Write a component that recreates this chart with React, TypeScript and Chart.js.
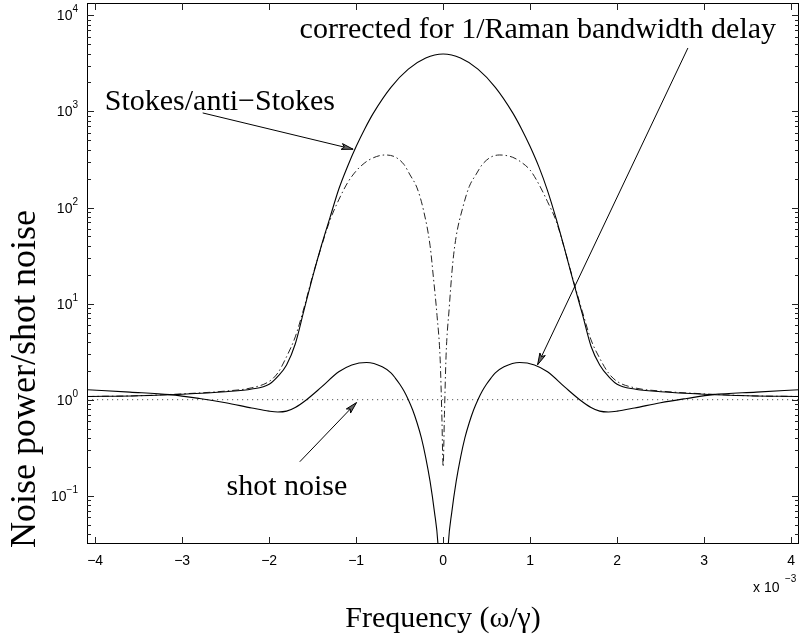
import React, { useEffect, useRef } from "react";
import { Chart, registerables } from "chart.js";

Chart.register(...registerables);

// ---- data (frequency in units of 1e-3) ----
const stokesX = [-4.09, -3.5, -3.0, -2.5, -2.2, -2.0, -1.9, -1.8, -1.7, -1.6, -1.5, -1.4, -1.3, -1.2, -1.1, -1.0, -0.9, -0.8, -0.6, -0.4, -0.2, 0, 0.2, 0.4, 0.6, 0.8, 0.9, 1.0, 1.1, 1.2, 1.3, 1.4, 1.5, 1.6, 1.7, 1.8, 1.9, 2.0, 2.2, 2.5, 3.0, 3.5, 4.09];
const stokesY = [1.08, 1.10, 1.14, 1.21, 1.29, 1.45, 1.75, 2.3, 3.8, 8.5, 19, 40, 79, 155, 266, 431, 661, 966, 1780, 2750, 3590, 3950, 3590, 2750, 1780, 966, 661, 431, 266, 150, 76, 36, 16.5, 7.8, 3.6, 2.3, 1.75, 1.45, 1.29, 1.21, 1.14, 1.10, 1.08];

const uncorrX = [-4.09, -3.5, -3.0, -2.5, -2.2, -2.0, -1.9, -1.8, -1.7, -1.6, -1.5, -1.4, -1.3, -1.2, -1.1, -1.0, -0.9, -0.8, -0.67, -0.55, -0.45, -0.38, -0.3, -0.226, -0.15, -0.11, -0.07, -0.034, -0.015, 0, 0.015, 0.034, 0.07, 0.11, 0.15, 0.226, 0.3, 0.38, 0.45, 0.55, 0.65, 0.8, 0.9, 1.0, 1.1, 1.2, 1.3, 1.4, 1.5, 1.6, 1.7, 1.8, 1.9, 2.0, 2.2, 2.5, 3.0, 3.5, 4.09];
const uncorrY = [1.08, 1.10, 1.15, 1.23, 1.33, 1.55, 1.9, 2.8, 4.5, 9, 19.5, 39, 74, 120, 180, 240, 292, 330, 352, 335, 280, 218, 160, 94, 40, 18, 7.5, 2.6, 0.7, 0.2, 0.7, 2.9, 9, 26, 50, 100, 165, 222, 280, 335, 352, 333, 295, 245, 175, 115, 72, 36, 17, 8.3, 4.2, 2.7, 1.9, 1.55, 1.33, 1.23, 1.15, 1.10, 1.08];

const correctedX = [-4.09, -3.6, -3.14, -2.8, -2.5, -2.2, -2.0, -1.9, -1.8, -1.7, -1.57, -1.4, -1.2, -1.05, -0.88, -0.7, -0.6, -0.55, -0.5, -0.45, -0.4, -0.35, -0.3, -0.25, -0.2, -0.15, -0.1, -0.06, -0.02, 0, 0.02, 0.06, 0.1, 0.15, 0.2, 0.25, 0.3, 0.35, 0.4, 0.45, 0.5, 0.55, 0.6, 0.7, 0.88, 1.05, 1.2, 1.4, 1.57, 1.7, 1.8, 1.9, 2.0, 2.2, 2.5, 2.8, 3.1, 3.6, 4.09];
const correctedY = [1.27, 1.2, 1.13, 1.03, 0.93, 0.82, 0.76, 0.745, 0.76, 0.83, 1.0, 1.35, 1.95, 2.3, 2.44, 2.2, 1.9, 1.68, 1.455, 1.23, 1.0, 0.78, 0.575, 0.40, 0.25, 0.141, 0.068, 0.032, 0.005, 0.001, 0.005, 0.032, 0.068, 0.141, 0.25, 0.40, 0.575, 0.78, 1.0, 1.23, 1.455, 1.68, 1.9, 2.2, 2.44, 2.3, 1.95, 1.35, 1.0, 0.83, 0.76, 0.745, 0.76, 0.82, 0.93, 1.03, 1.13, 1.2, 1.27];

const shotNoiseX = [-4.094, 4.091];
const shotNoiseY = [1, 1];

const xTickValues = [-4, -3, -2, -1, 0, 1, 2, 3, 4];
const xTickLabels = ["\u22124", "\u22123", "\u22122", "\u22121", "0", "1", "2", "3", "4"];
const yTickExponents = [-1, 0, 1, 2, 3, 4];
const yTickExpLabels = ["\u22121", "0", "1", "2", "3", "4"];

const xMin = -4.094;
const xMax = 4.091;
const yMin = 0.0315;
const yMax = 13430;

// annotations: text anchors (data space) and arrows
const annText = ["corrected for 1/Raman bandwidth delay", "Stokes/anti\u2212Stokes", "shot noise"];
const annTextX = [-1.65, -3.89, -2.49];
const annTextY = [5800, 1035, 0.102];
const arrowFrom = [[2.814, 4570], [-2.764, 964], [-1.648, 0.226]];
const arrowTo = [[1.086, 2.31], [-1.035, 404], [-0.996, 0.933]];

const toPts = (xs: number[], ys: number[]) => xs.map((x, i) => ({ x, y: ys[i] }));

const SERIF = "'Liberation Serif', 'Times New Roman', serif";
const SANS = "'Liberation Sans', Arial, sans-serif";

const decor = {
  id: "decor",
  afterDraw(chart: any) {
    const { ctx, chartArea: a, scales } = chart;
    const xs = scales.x;
    const ys = scales.y;
    ctx.save();
    ctx.strokeStyle = "#000";
    ctx.lineWidth = 1;
    ctx.strokeRect(Math.round(a.left) + 0.5, Math.round(a.top) + 0.5, Math.round(a.right - a.left) - 1, Math.round(a.bottom - a.top) - 1);

    ctx.strokeStyle = "#222";
    ctx.beginPath();
    xTickValues.forEach((v) => {
      const p = Math.round(xs.getPixelForValue(v)) + 0.5;
      ctx.moveTo(p, a.bottom);
      ctx.lineTo(p, a.bottom - 7);
      ctx.moveTo(p, a.top);
      ctx.lineTo(p, a.top + 7);
    });
    yTickExponents.forEach((e) => {
      const p = Math.round(ys.getPixelForValue(Math.pow(10, e))) + 0.5;
      ctx.moveTo(a.left, p);
      ctx.lineTo(a.left + 7, p);
      ctx.moveTo(a.right, p);
      ctx.lineTo(a.right - 7, p);
    });
    for (let e = -2; e <= 4; e++) {
      for (let k = 2; k <= 9; k++) {
        const v = k * Math.pow(10, e);
        if (v <= yMin || v >= yMax) continue;
        const p = Math.round(ys.getPixelForValue(v)) + 0.5;
        ctx.moveTo(a.left, p);
        ctx.lineTo(a.left + 4, p);
        ctx.moveTo(a.right, p);
        ctx.lineTo(a.right - 4, p);
      }
    }
    ctx.stroke();

    ctx.fillStyle = "#000";
    ctx.font = `14px ${SANS}`;
    ctx.textAlign = "center";
    ctx.textBaseline = "alphabetic";
    xTickValues.forEach((v, i) => {
      ctx.fillText(xTickLabels[i], xs.getPixelForValue(v), a.bottom + 21);
    });
    ctx.textAlign = "left";
    ctx.fillText("x 10", 753, a.bottom + 48);
    ctx.font = `10px ${SANS}`;
    ctx.fillText("\u22123", 785, a.bottom + 38);

    yTickExponents.forEach((e, i) => {
      const p = ys.getPixelForValue(Math.pow(10, e));
      ctx.font = `10px ${SANS}`;
      const ew = ctx.measureText(yTickExpLabels[i]).width;
      ctx.textAlign = "left";
      ctx.fillText(yTickExpLabels[i], 78 - ew, p - 3);
      ctx.font = `14px ${SANS}`;
      const bw = ctx.measureText("10").width;
      ctx.fillText("10", 78 - ew - bw, p + 5);
    });

    ctx.font = `30px ${SERIF}`;
    ctx.textAlign = "center";
    ctx.fillText("Frequency (\u03c9/\u03b3)", (a.left + a.right) / 2, 627);
    ctx.save();
    ctx.translate(35, 379);
    ctx.rotate(-Math.PI / 2);
    ctx.font = `36px ${SERIF}`;
    ctx.fillText("Noise power/shot noise", 0, 0);
    ctx.restore();

    ctx.font = `30px ${SERIF}`;
    ctx.textAlign = "left";
    annText.forEach((t, i) => {
      ctx.fillText(t, xs.getPixelForValue(annTextX[i]), ys.getPixelForValue(annTextY[i]));
    });

    ctx.strokeStyle = "#000";
    ctx.fillStyle = "#666";
    ctx.lineWidth = 1;
    arrowFrom.forEach((f, i) => {
      const t = arrowTo[i];
      const x0 = xs.getPixelForValue(f[0]);
      const y0 = ys.getPixelForValue(f[1]);
      const x1 = xs.getPixelForValue(t[0]);
      const y1 = ys.getPixelForValue(t[1]);
      const ang = Math.atan2(y1 - y0, x1 - x0);
      const L = 12;
      const s = 0.25;
      ctx.beginPath();
      ctx.moveTo(x0, y0);
      ctx.lineTo(x1, y1);
      ctx.stroke();
      ctx.beginPath();
      ctx.moveTo(x1, y1);
      ctx.lineTo(x1 - L * Math.cos(ang - s), y1 - L * Math.sin(ang - s));
      ctx.lineTo(x1 - L * 0.75 * Math.cos(ang), y1 - L * 0.75 * Math.sin(ang));
      ctx.lineTo(x1 - L * Math.cos(ang + s), y1 - L * Math.sin(ang + s));
      ctx.closePath();
      ctx.fill();
      ctx.stroke();
    });
    ctx.restore();
  },
};

export default function App() {
  const ref = useRef<HTMLCanvasElement | null>(null);
  useEffect(() => {
    if (!ref.current) return;
    const chart = new Chart(ref.current, {
      type: "scatter",
      data: {
        datasets: [
          {
            label: "corrected",
            data: toPts(correctedX, correctedY),
            showLine: true,
            borderColor: "#000",
            borderWidth: 1.1,
            pointRadius: 0,
            cubicInterpolationMode: "monotone",
          },
          {
            label: "Stokes",
            data: toPts(stokesX, stokesY),
            showLine: true,
            borderColor: "#000",
            borderWidth: 1.1,
            pointRadius: 0,
            cubicInterpolationMode: "monotone",
          },
          {
            label: "uncorrected",
            data: toPts(uncorrX, uncorrY),
            showLine: true,
            borderColor: "#222",
            borderWidth: 1,
            borderDash: [7, 3, 1.5, 3],
            pointRadius: 0,
            cubicInterpolationMode: "monotone",
          },
          {
            label: "shot noise",
            data: toPts(shotNoiseX, shotNoiseY),
            showLine: true,
            borderColor: "#555",
            borderWidth: 1,
            borderDash: [1.2, 3.8],
            pointRadius: 0,
          },
        ],
      },
      options: {
        animation: false,
        responsive: false,
        devicePixelRatio: 1,
        layout: { padding: { top: 3, right: 1, left: 0, bottom: 0 } },
        plugins: { legend: { display: false }, tooltip: { enabled: false } },
        scales: {
          x: {
            type: "linear",
            min: xMin,
            max: xMax,
            ticks: { display: false },
            grid: { display: false },
            border: { display: false },
            afterFit: (s: any) => {
              s.height = 94;
            },
          },
          y: {
            type: "logarithmic",
            min: yMin,
            max: yMax,
            ticks: { display: false },
            grid: { display: false },
            border: { display: false },
            afterFit: (s: any) => {
              s.width = 87;
            },
          },
        },
      },
      plugins: [decor],
    } as any);
    return () => chart.destroy();
  }, []);
  return (
    <div style={{ position: "absolute", left: 0, top: 0, width: 800, height: 638, background: "#fff" }}>
      <canvas ref={ref} width={800} height={638} />
    </div>
  );
}
